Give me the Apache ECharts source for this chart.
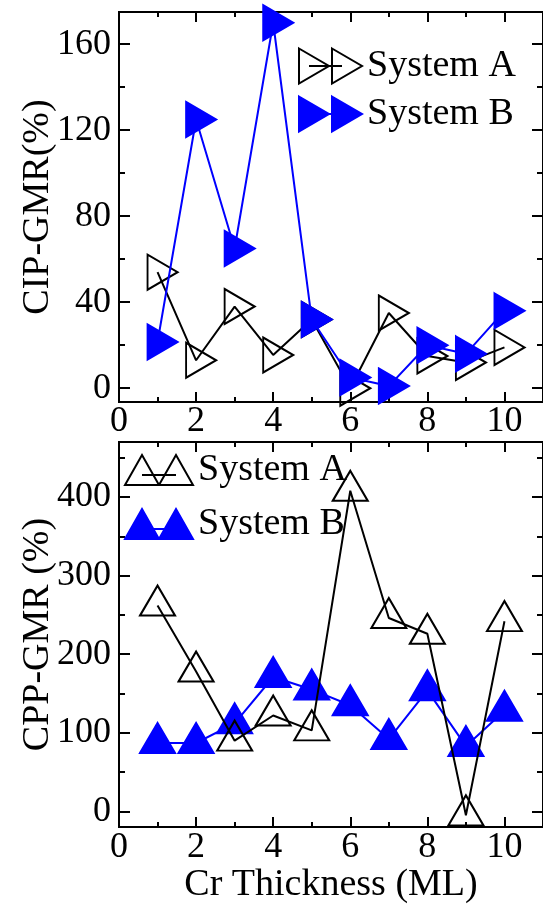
<!DOCTYPE html>
<html>
<head>
<meta charset="utf-8">
<script src="https://cdn.jsdelivr.net/npm/echarts@6/dist/echarts.min.js"></script>
<style>
  html, body { margin: 0; padding: 0; background: #fff; }
  #main { width: 543px; height: 905px; }
</style>
</head>
<body>
<div id="main"></div>
<script>
  // data
  const thickness = [1, 2, 3, 4, 5, 6, 7, 8, 9, 10];
  const cipA = [54, 13, 38, 15.5, 32, 0, 35, 15, 12, 19];
  const cipB = [21.5, 125, 65, 170, 32, 5, 1, 20, 16, 36];
  const cppA = [262, 178, 90, 122, 103, 408, 246, 226, -5, 242];
  const cppB = [87, 87, 112, 171, 155, 135, 92, 154, 83, 128];

  const xMajor = [0, 2, 4, 6, 8, 10];
  const xMinor = [1, 3, 5, 7, 9];
  const cipMajor = [0, 40, 80, 120, 160];
  const cipMinor = [20, 60, 100, 140];
  const cppMajor = [0, 100, 200, 300, 400];
  const cppMinor = [50, 150, 250, 350, 450];

  const FONT = 'Liberation Serif';
  const BLUE = '#0000ff';

  // marker shapes
  const triRight = 'path://M0,0L30,17.5L0,35Z';
  const triUp = 'path://M0,30L17.5,0L35,30Z';
  const legRight = 'path://M0,0L30,17.5L0,35Z M33,0L63,17.5L33,35Z M10,17.5L43,17.5';
  const legUp = 'path://M0,30L17,0L34,30Z M34,30L51,0L68,30Z M17,20L51,20';

  const pairs = (ys) => thickness.map((x, i) => [x, ys[i]]);

  function xAx(grid, pos, ticks, len, labels, name) {
    return {
      type: 'value', gridIndex: grid, position: pos, min: 0, max: 11,
      name: name || '', nameLocation: 'middle', nameGap: 29,
      nameTextStyle: { fontFamily: FONT, fontSize: 38, color: '#000' },
      axisLine: { show: true, onZero: false, lineStyle: { color: '#000', width: 2 } },
      axisTick: { show: true, inside: true, length: len, customValues: ticks, lineStyle: { color: '#000', width: 2 } },
      axisLabel: labels ? { show: true, customValues: ticks, margin: 2, fontFamily: FONT, fontSize: 36, color: '#000' } : { show: false },
      splitLine: { show: false }
    };
  }

  function yAx(grid, pos, min, max, ticks, len, labels, name) {
    return {
      type: 'value', gridIndex: grid, position: pos, min: min, max: max,
      name: name || '', nameLocation: 'middle', nameGap: 62, nameRotate: 90,
      nameMoveOverlap: false,
      nameTextStyle: { fontFamily: FONT, fontSize: 38, color: '#000' },
      axisLine: { show: true, onZero: false, lineStyle: { color: '#000', width: 2 } },
      axisTick: { show: true, inside: true, length: len, customValues: ticks, lineStyle: { color: '#000', width: 2 } },
      axisLabel: labels ? { show: true, customValues: ticks, margin: 8, fontFamily: FONT, fontSize: 36, color: '#000' } : { show: false },
      splitLine: { show: false }
    };
  }

  const hollow = { color: 'transparent', borderColor: '#000', borderWidth: 2 };
  const filled = { color: BLUE, borderColor: BLUE, borderWidth: 2 };

  var myChart = echarts.init(document.getElementById('main'), null, { renderer: 'canvas' });
  myChart.setOption({
    animation: false,
    backgroundColor: '#fff',
    grid: [
      { left: 119, top: 12, width: 429, height: 390 },
      { left: 119, top: 442, width: 429, height: 390 }
    ],
    xAxis: [
      xAx(0, 'bottom', xMajor, 10, true),
      xAx(0, 'bottom', xMinor, 5, false),
      xAx(0, 'top', xMajor, 10, false),
      xAx(0, 'top', xMinor, 5, false),
      xAx(1, 'bottom', xMajor, 10, true, 'Cr Thickness (ML)'),
      xAx(1, 'bottom', xMinor, 5, false),
      xAx(1, 'top', xMajor, 10, false),
      xAx(1, 'top', xMinor, 5, false)
    ],
    yAxis: [
      yAx(0, 'left', -6.4, 175, cipMajor, 11, true, 'CIP-GMR(%)'),
      yAx(0, 'left', -6.4, 175, cipMinor, 6, false),
      yAx(0, 'right', -6.4, 175, cipMajor, 11, false),
      yAx(0, 'right', -6.4, 175, cipMinor, 6, false),
      yAx(1, 'left', -20, 470, cppMajor, 11, true, 'CPP-GMR (%)'),
      yAx(1, 'left', -20, 470, cppMinor, 6, false),
      yAx(1, 'right', -20, 470, cppMajor, 11, false),
      yAx(1, 'right', -20, 470, cppMinor, 6, false)
    ],
    legend: [
      {
        orient: 'vertical', left: 298, top: 47, padding: 0, itemGap: 10,
        itemWidth: 63, itemHeight: 35, selectedMode: false,
        textStyle: { fontFamily: FONT, fontSize: 38, color: '#000' },
        data: [
          { name: 'System A', icon: legRight, itemStyle: hollow },
          { name: 'System B', icon: legRight, itemStyle: filled }
        ]
      },
      {
        orient: 'vertical', left: 124, top: 451, padding: 0, itemGap: 16,
        itemWidth: 68, itemHeight: 30, selectedMode: false,
        textStyle: { fontFamily: FONT, fontSize: 38, color: '#000' },
        data: [
          { name: 'System A', icon: legUp, itemStyle: hollow },
          { name: 'System B', icon: legUp, itemStyle: filled }
        ]
      }
    ],
    series: [
      {
        name: 'System A', type: 'line', xAxisIndex: 0, yAxisIndex: 0, z: 2,
        data: pairs(cipA), symbol: triRight, symbolSize: [30, 35], symbolOffset: [5, 0],
        itemStyle: hollow, lineStyle: { color: '#000', width: 2 }
      },
      {
        name: 'System B', type: 'line', xAxisIndex: 0, yAxisIndex: 0, z: 3,
        data: pairs(cipB), symbol: triRight, symbolSize: [30, 35], symbolOffset: [5, 0],
        itemStyle: filled, lineStyle: { color: BLUE, width: 2 }
      },
      {
        name: 'System B', type: 'line', xAxisIndex: 4, yAxisIndex: 4, z: 2,
        data: pairs(cppB), symbol: triUp, symbolSize: [35, 30], symbolOffset: [0, -5],
        itemStyle: filled, lineStyle: { color: BLUE, width: 2 }
      },
      {
        name: 'System A', type: 'line', xAxisIndex: 4, yAxisIndex: 4, z: 3,
        data: pairs(cppA), symbol: triUp, symbolSize: [35, 30], symbolOffset: [0, -5],
        itemStyle: hollow, lineStyle: { color: '#000', width: 2 }
      }
    ]
  });
</script>
</body>
</html>
